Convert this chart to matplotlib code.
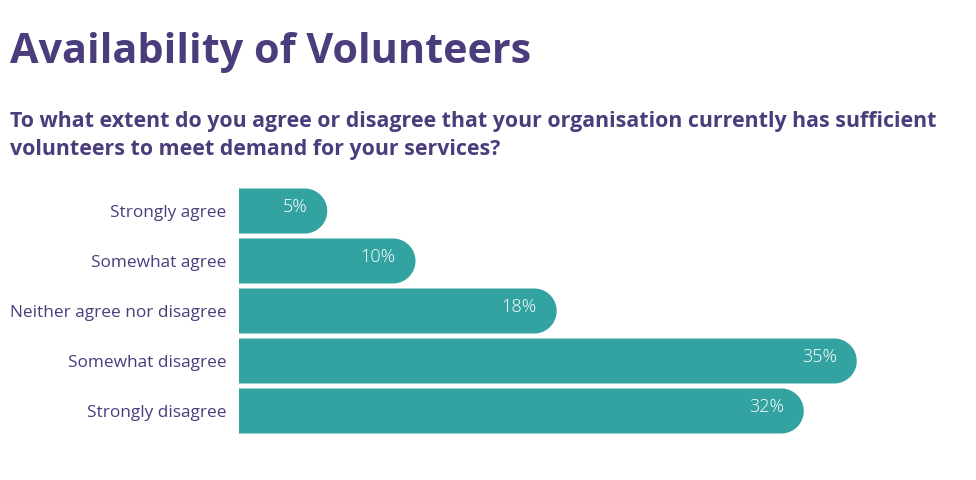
import matplotlib
matplotlib.use("Agg")
import numpy as np
import matplotlib.pyplot as plt
from matplotlib.patches import Polygon

categories = ["Strongly agree", "Somewhat agree", "Neither agree nor disagree",
              "Somewhat disagree", "Strongly disagree"]
values = [5, 10, 18, 35, 32]

purple = "#4B3D7C"
teal = "#33A3A1"

plt.rcParams['font.family'] = ['Open Sans', 'DejaVu Sans']

fig = plt.figure(figsize=(9.76, 4.8), dpi=100)
fig.text(10 / 976, 1 - 63 / 480, "Availability of Volunteers", fontsize=29.8,
         fontweight='bold', color=purple, ha='left', va='baseline')
fig.text(10 / 976, 1 - 127 / 480,
         "To what extent do you agree or disagree that your organisation currently has sufficient",
         fontsize=15.4, fontweight='bold', color=purple, ha='left', va='baseline')
fig.text(10 / 976, 1 - 155 / 480, "volunteers to meet demand for your services?",
         fontsize=15.4, fontweight='bold', color=purple, ha='left', va='baseline')

ax_w_px = 706
ax = fig.add_axes([239 / 976, 1 - 436 / 480, ax_w_px / 976, 250 / 480])
xmax = 40
ax.set_xlim(0, xmax)
ax.set_ylim(len(values) - 0.5, -0.5)

bar_h = 0.9
px_per_x = ax_w_px / xmax
px_per_y = 50
r_px = 22.5
rx = r_px / px_per_x
ry = r_px / px_per_y

# bars: square left side, rounded right end
ypos = list(range(len(values)))
t = np.linspace(-np.pi / 2, np.pi / 2, 40)
for y, v in zip(ypos, values):
    arc = np.column_stack([v - rx + rx * np.cos(t), y + ry * np.sin(t)])
    pts = np.vstack([[0, y - bar_h / 2], arc, [0, y + bar_h / 2]])
    ax.add_patch(Polygon(pts, closed=True, facecolor=teal, edgecolor='none'))
    ax.text(v - 1.13, y - 0.07, f"{v}%", ha='right', va='center', color='white',
            fontsize=13, fontweight='light')

ax.set_yticks(ypos)
ax.set_yticklabels(categories, fontsize=12.4, color=purple)
ax.tick_params(axis='y', length=0, pad=9)
ax.set_xticks([])
for s in ax.spines.values():
    s.set_visible(False)

fig.savefig("out.png", dpi=100)
